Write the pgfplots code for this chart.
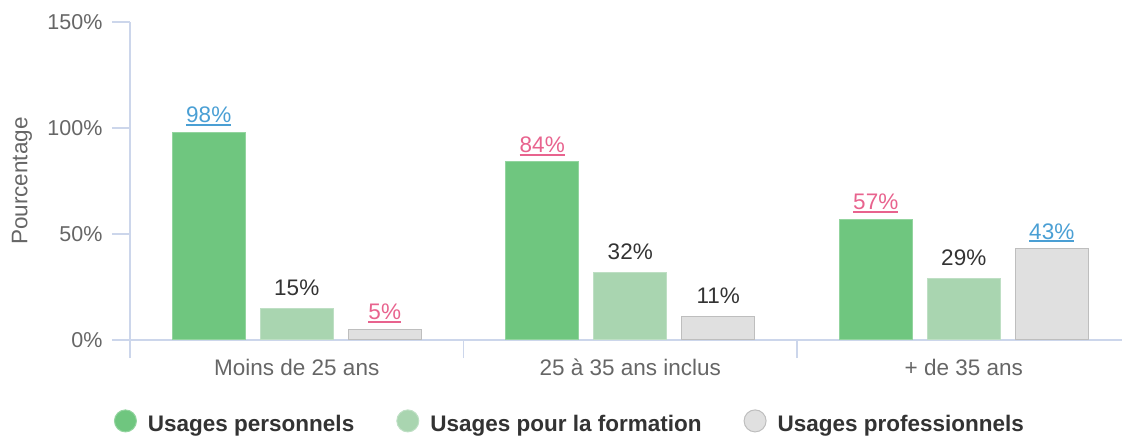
\documentclass[border=0pt]{standalone}
\usepackage{pgfplots}
\pgfplotsset{compat=1.18}
\usepackage{pgfplotstable}
\usepackage{fontspec}
\setmainfont{Liberation Sans}
\definecolor{cA}{HTML}{6FC67F}
\definecolor{cB}{HTML}{A9D5B0}
\definecolor{cC}{HTML}{E0E0E0}
\definecolor{axl}{HTML}{CCD6EB}
\definecolor{pinkl}{HTML}{E8638E}
\definecolor{bluel}{HTML}{4A9FD4}
\definecolor{txt}{HTML}{333333}
\definecolor{tickc}{HTML}{666666}
\newcommand\ulab[2]{\raisebox{-3.6pt}{\textcolor{#1}{\setbox0\hbox{#2\%}\rlap{\rule[-3pt]{\wd0}{2pt}}\box0}}}
\newcommand\lblb[1]{\ulab{bluel}{#1}}
\newcommand\lblp[1]{\ulab{pinkl}{#1}}
\newcommand\lbln[1]{\textcolor{txt}{#1\%}}
\newcommand\fs{\fontsize{22.5}{26}\selectfont}
\newcommand\fst{\fontsize{21.5}{25}\selectfont}
\pgfplotstableread{
x y c
0 98 b
1 84 p
2 57 p
}\tA
\pgfplotstableread{
x y c
0 15 n
1 32 n
2 29 n
}\tB
\pgfplotstableread{
x y c
0 5 p
1 11 n
2 43 b
}\tC
\pgfplotsset{circ leg/.style={legend image code/.code={\draw[##1, line width=1pt] (11pt,0.35em) circle (11pt);}}}
\begin{document}
\begin{tikzpicture}
\useasboundingbox (0,0) rectangle (1122pt,439pt);
\begin{axis}[
  at={(130pt,99pt)}, anchor=south west,
  scale only axis, width=992pt, height=318pt,
  ybar=15pt, bar width=73pt,
  xmin=-0.5, xmax=2.4745, ymin=0, ymax=150,
  xtick={-0.5,0.5,1.5}, xticklabels={},
  extra x ticks={0,1,2},
  extra x tick labels={Moins de 25 ans, 25 à 35 ans inclus, + de 35 ans},
  extra x tick style={major tick length=0pt, xticklabel style={anchor=base, yshift=-35pt, font=\fs}},
  ytick={0,50,100,150},
  yticklabel={\pgfmathprintnumber{\tick}\%},
  yticklabel style={xshift=-6pt},
  /pgf/number format/assume math mode=true,
  tick align=outside, major tick length=18pt,
  axis x line*=bottom, axis y line*=left, separate axis lines,
  x axis line style={-, draw=axl, line width=2.5pt},
  y axis line style={-, draw=axl, line width=1.3pt},
  tick style={draw=axl, line width=1.3pt},
  ticklabel style={font=\fst, text=tickc},
  ylabel={Pourcentage},
  ylabel style={at={(axis description cs:-0.109,0.5)}, anchor=center, font=\fs, text=tickc},
  point meta=explicit symbolic,
  visualization depends on={\thisrow{y} \as \yv},
  nodes near coords={\csname lbl\pgfplotspointmeta\endcsname{\pgfmathprintnumber{\yv}}},
  every node near coord/.append style={anchor=base, inner sep=0pt, yshift=13pt, font=\fs},
  clip=false,
  legend columns=3,
  legend style={at={(axis description cs:0.4435,-0.259)}, anchor=center, draw=none, fill=none,
    font=\bfseries\fs, text=txt,
    /tikz/every odd column/.append style={column sep=9pt},
    /tikz/every even column/.append style={column sep=40pt}},
]
\addplot[fill=cA, draw=cA!75!white, line width=1pt, circ leg] table[x=x,y=y,meta=c]{\tA};
\addplot[fill=cB, draw=cB!75!white, line width=1pt, circ leg] table[x=x,y=y,meta=c]{\tB};
\addplot[fill=cC, draw=cC!85!black, line width=1pt, circ leg] table[x=x,y=y,meta=c]{\tC};
\legend{Usages personnels, Usages pour la formation, Usages professionnels}
\end{axis}
\end{tikzpicture}
\end{document}
